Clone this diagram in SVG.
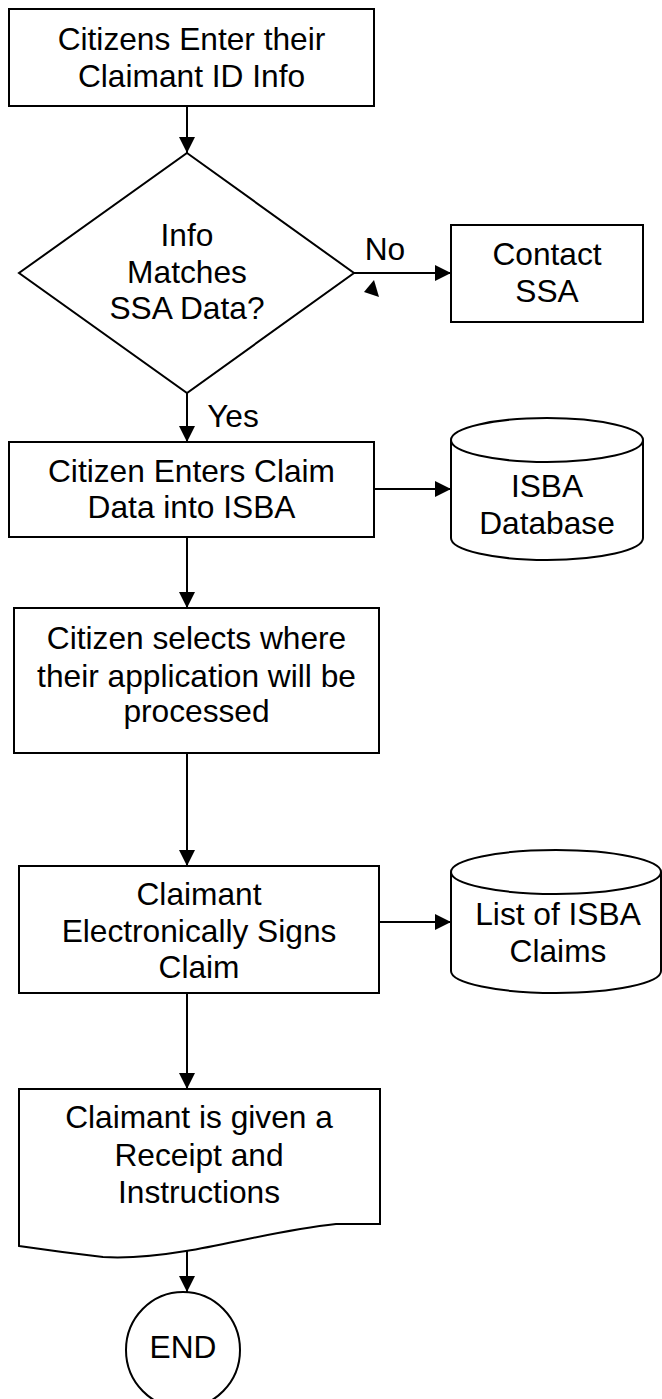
<svg xmlns="http://www.w3.org/2000/svg" width="662" height="1399" viewBox="0 0 662 1399">
<style>
.s{fill:#fff;stroke:#000;stroke-width:2}
.t{font-family:"Liberation Sans",Arial,sans-serif;font-size:31.7px;fill:#000;text-anchor:middle}
.c{stroke:#000;stroke-width:2;fill:none}
</style>
<defs>
<marker id="ah" markerUnits="userSpaceOnUse" markerWidth="17" markerHeight="16" refX="16" refY="8" orient="auto">
<path d="M0,0 L16,8 L0,16 Z" fill="#000"/>
</marker>
</defs>
<rect width="662" height="1399" fill="#fff"/>
<g id="connectors">
<line class="c" x1="187" y1="106" x2="187" y2="153" marker-end="url(#ah)"/>
<line class="c" x1="354" y1="273" x2="451" y2="273" marker-end="url(#ah)"/>
<polygon points="374,280 364,292 379,297" fill="#000"/>
<line class="c" x1="187" y1="393" x2="187" y2="442" marker-end="url(#ah)"/>
<line class="c" x1="374" y1="489" x2="451" y2="489" marker-end="url(#ah)"/>
<line class="c" x1="187" y1="537" x2="187" y2="608" marker-end="url(#ah)"/>
<line class="c" x1="187" y1="753" x2="187" y2="866" marker-end="url(#ah)"/>
<line class="c" x1="379" y1="922" x2="451" y2="922" marker-end="url(#ah)"/>
<line class="c" x1="187" y1="993" x2="187" y2="1089" marker-end="url(#ah)"/>
<line class="c" x1="187" y1="1250" x2="187" y2="1292" marker-end="url(#ah)"/>
<text class="t" x="385" y="260">No</text>
<text class="t" x="233" y="427">Yes</text>
</g>
<g id="n1">
<rect class="s" x="9" y="9" width="365" height="97"/>
<text class="t" x="191.5" y="50">Citizens Enter their</text>
<text class="t" x="191.5" y="87">Claimant ID Info</text>
</g>
<g id="n2">
<polygon class="s" points="187,153 354,273 187,393 19,273"/>
<text class="t" x="187" y="246">Info</text>
<text class="t" x="187" y="283">Matches</text>
<text class="t" x="187" y="319">SSA Data?</text>
</g>
<g id="n3">
<rect class="s" x="451" y="225" width="192" height="97"/>
<text class="t" x="547" y="265">Contact</text>
<text class="t" x="547" y="302">SSA</text>
</g>
<g id="n4">
<rect class="s" x="9" y="442" width="365" height="95"/>
<text class="t" x="191.5" y="482">Citizen Enters Claim</text>
<text class="t" x="191.5" y="518">Data into ISBA</text>
</g>
<g id="n5">
<path class="s" d="M451,440 L451,538 A96,22 0 0 0 643,538 L643,440"/>
<ellipse class="s" cx="547" cy="440" rx="96" ry="22"/>
<text class="t" x="547" y="497">ISBA</text>
<text class="t" x="547" y="534">Database</text>
</g>
<g id="n6">
<rect class="s" x="14" y="608" width="365" height="145"/>
<text class="t" x="196.5" y="649">Citizen selects where</text>
<text class="t" x="196.5" y="687">their application will be</text>
<text class="t" x="196.5" y="722">processed</text>
</g>
<g id="n7">
<rect class="s" x="19" y="866" width="360" height="127"/>
<text class="t" x="199" y="905">Claimant</text>
<text class="t" x="199" y="942">Electronically Signs</text>
<text class="t" x="199" y="978">Claim</text>
</g>
<g id="n8">
<path class="s" d="M451,872 L451,971 A105,22 0 0 0 661,971 L661,872"/>
<ellipse class="s" cx="556" cy="872" rx="105" ry="22"/>
<text class="t" x="558" y="925">List of ISBA</text>
<text class="t" x="558" y="962">Claims</text>
</g>
<g id="n9">
<path class="s" d="M19,1089 H380 V1224 L336,1224 C280,1230 230,1244 186,1251 C150,1257 120,1258 103,1257 Q60,1252 19,1246 Z"/>
<text class="t" x="199" y="1128">Claimant is given a</text>
<text class="t" x="199" y="1166">Receipt and</text>
<text class="t" x="199" y="1203">Instructions</text>
</g>
<g id="n10">
<ellipse class="s" cx="183" cy="1350" rx="57" ry="58"/>
<text class="t" x="183" y="1358">END</text>
</g>
</svg>
